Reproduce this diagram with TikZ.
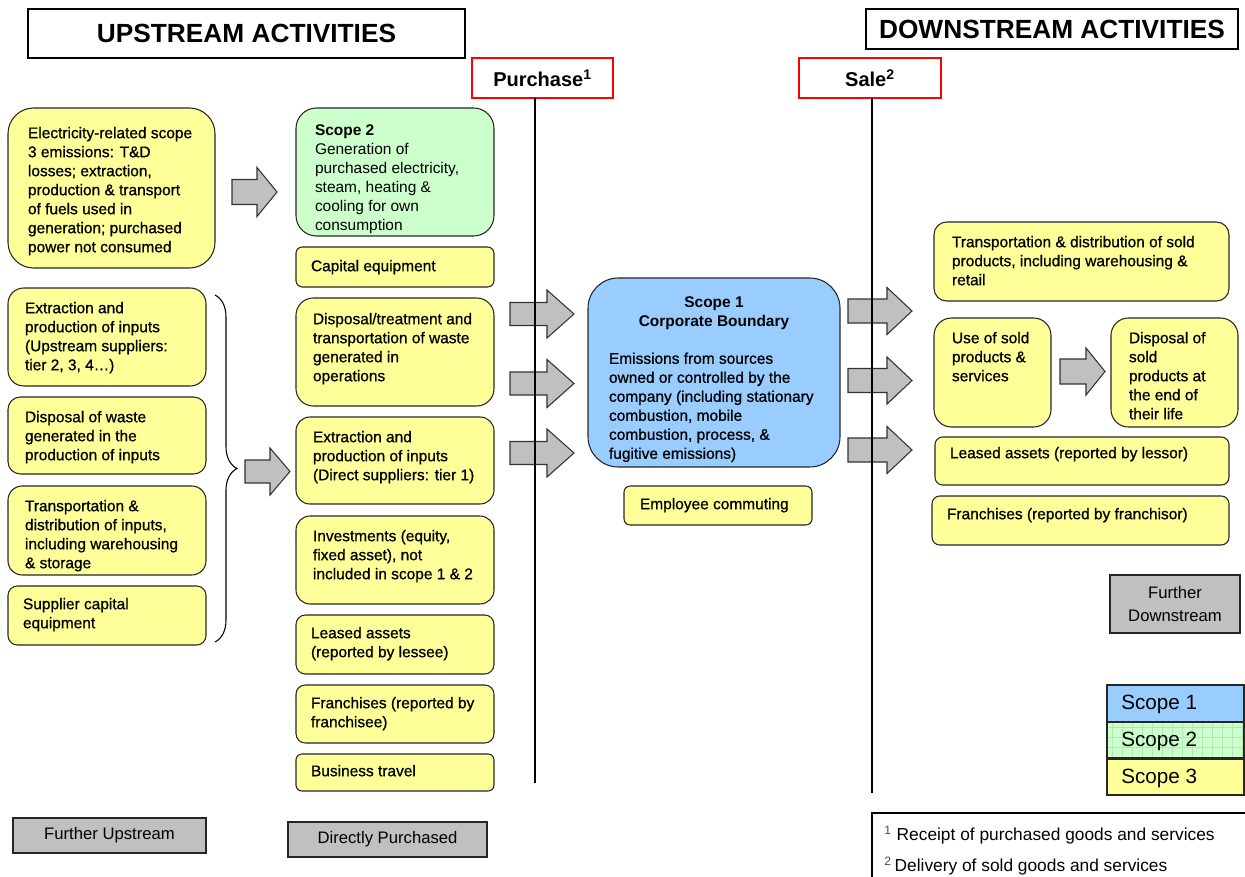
\documentclass[tikz,border=0pt]{standalone}
\usepackage{fontspec}
\setmainfont{Liberation Sans}
\newfontfamily\bxf{Liberation Sans}[UprightFeatures={FakeBold=0.8}]
\usetikzlibrary{decorations.pathreplacing}
\definecolor{yel}{HTML}{FFFF99}
\definecolor{grn}{HTML}{CCFFCC}
\definecolor{blu}{HTML}{99CCFF}
\definecolor{gry}{HTML}{C0C0C0}
\definecolor{gridg}{HTML}{B4E6B4}
\newdimen\ppx \ppx=0.75pt
% rounded box with top-left text
\newcommand\bx[9]{%
 \pgfmathsetlengthmacro\bw{(#5-#3)*0.75pt}%
 \pgfmathsetlengthmacro\bh{(#6-#4)*0.75pt}%
 \pgfmathsetlengthmacro\br{0.16*min(#5-#3,#6-#4)*0.75pt}%
 \node[#1, rounded corners=\br, anchor=north west, inner sep=0pt, outer sep=0pt,
   minimum width=\bw, minimum height=\bh] (#2) at (#3,#4)
   {\parbox[b][\bh][t]{\bw}{\vspace*{#8\ppx}\raggedright\leftskip=#7\ppx\relax #9\par}};}
% square box with centred text
\newcommand\cbx[7]{%
 \pgfmathsetlengthmacro\bw{(#5-#3)*0.75pt}%
 \pgfmathsetlengthmacro\bh{(#6-#4)*0.75pt}%
 \node[#1, anchor=north west, inner sep=0pt, outer sep=0pt,
   minimum width=\bw, minimum height=\bh, align=center] (#2) at (#3,#4) {#7};}
\newcommand\barr[6]{%
 \draw[arr] (#1,#4-#5) -- (#3,#4-#5) -- (#3,#4-#6) -- (#2,#4) -- (#3,#4+#6)
   -- (#3,#4+#5) -- (#1,#4+#5) -- cycle;}
\begin{document}
\begin{tikzpicture}[x=0.75pt,y=-0.75pt,
  ybox/.style={draw=black!85, line width=0.8pt, fill=yel, font=\bxf\fontsize{11.6}{14.25}\selectfont},
  gbox/.style={draw=black!85, line width=0.8pt, fill=grn, font=\fontsize{11.6}{14.25}\selectfont},
  bbox/.style={draw=black!85, line width=0.8pt, fill=blu, font=\bxf\fontsize{11.6}{14.25}\selectfont},
  hdr/.style={draw=black, line width=0.9pt, fill=white, font=\bfseries\fontsize{19.7}{23}\selectfont},
  redbox/.style={draw=red, line width=1pt, fill=white, font=\bfseries\fontsize{15}{18}\selectfont},
  greybox/.style={draw=black!85, line width=1.3pt, fill=gry, font=\fontsize{12.5}{17}\selectfont},
  leg/.style={draw=black!85, line width=1.5pt, font=\fontsize{15.5}{18}\selectfont},
  legt/.style={anchor=west, inner sep=0pt, font=\fontsize{15.5}{18}\selectfont},
  arr/.style={draw=black!80, line width=0.8pt, fill=gry},
  vline/.style={draw=black, line width=0.9pt},
  gridl/.style={draw=gridg, line width=0.3pt}]
\useasboundingbox (0,0) rectangle (1245,877);

% headers
\cbx{hdr}{up}{28}{9}{465}{58}{UPSTREAM ACTIVITIES}
\cbx{hdr}{down}{866}{9}{1238}{49}{DOWNSTREAM ACTIVITIES}
\cbx{redbox}{purch}{472}{58}{613}{98}{Purchase\textsuperscript{1}}
\cbx{redbox}{sale}{799}{58}{941}{98}{Sale\textsuperscript{2}}

% further upstream column
\bx{ybox}{elec}{8}{108}{215}{268}{20}{19}{Electricity-related scope\\3 emissions: T\&D\\losses; extraction,\\production \& transport\\of fuels used in\\generation; purchased\\power not consumed}
\bx{ybox}{extup}{8}{288}{206}{386}{17}{14}{Extraction and\\production of inputs\\(Upstream suppliers:\\tier 2, 3, 4…)}
\bx{ybox}{dispw}{8}{397}{206}{474}{17}{14}{Disposal of waste\\generated in the\\production of inputs}
\bx{ybox}{transin}{8}{486}{206}{575}{17}{14}{Transportation \&\\distribution of inputs,\\including warehousing\\\& storage}
\bx{ybox}{supcap}{8}{586}{206}{645}{15}{12}{Supplier capital\\equipment}

% directly purchased column
\bx{gbox}{scope2}{296}{108}{494}{236}{19}{17}{{\bfseries Scope 2}\\Generation of\\purchased electricity,\\steam, heating \&\\cooling for own\\consumption}
\bx{ybox}{capeq}{296}{247}{494}{287}{15}{13}{Capital equipment}
\bx{ybox}{dispt}{296}{298}{494}{406}{17}{15}{Disposal/treatment and\\transportation of waste\\generated in\\operations}
\bx{ybox}{extd}{296}{417}{494}{504}{17}{14}{Extraction and\\production of inputs\\(Direct suppliers: tier 1)}
\bx{ybox}{inv}{296}{516}{494}{604}{17}{14}{Investments (equity,\\fixed asset), not\\included in scope 1 \& 2}
\bx{ybox}{lessee}{296}{615}{494}{674}{15}{12}{Leased assets\\(reported by lessee)}
\bx{ybox}{franee}{296}{685}{494}{743}{15}{12}{Franchises (reported by\\franchisee)}
\bx{ybox}{btrav}{296}{754}{494}{791}{15}{11}{Business travel}

% scope 1
\bx{bbox}{scope1}{588}{278}{840}{467}{0}{19}{{\normalfont\bfseries\centering Scope 1\\Corporate Boundary\par}\vspace{18\ppx}{\leftskip=21\ppx Emissions from sources\\owned or controlled by the\\company (including stationary\\combustion, mobile\\combustion, process, \&\\fugitive emissions)\par}}
\bx{ybox}{emp}{624}{486}{812}{525}{16}{12}{Employee commuting}

% downstream column
\bx{ybox}{transs}{934}{222}{1229}{301}{18}{14}{Transportation \& distribution of sold\\products, including warehousing \&\\retail}
\bx{ybox}{use}{934}{318}{1051}{427}{18}{14}{Use of sold\\products \&\\services}
\bx{ybox}{disps}{1111}{318}{1238}{427}{18}{14}{Disposal of\\sold\\products at\\the end of\\their life}
\bx{ybox}{lessor}{935}{437}{1229}{485}{15}{10}{Leased assets (reported by lessor)}
\bx{ybox}{franor}{932}{496}{1229}{545}{15}{12}{Franchises (reported by franchisor)}

% grey labels
\cbx{greybox}{fup}{13}{818}{206}{853}{Further Upstream}
\cbx{greybox}{dpur}{288}{822}{487}{857}{Directly Purchased}
\cbx{greybox}{fdown}{1110}{575}{1240}{633}{Further\\Downstream}

% block arrows
\barr{232}{277}{257}{192}{12.5}{24.5}
\barr{245}{290}{270}{471.5}{11.5}{23.5}
\barr{510}{574}{547}{314}{11.5}{24}
\barr{510}{574}{547}{383.5}{11.5}{24}
\barr{510}{574}{547}{453}{11.5}{24}
\barr{848}{912}{887}{311}{12}{23.5}
\barr{848}{912}{887}{380.5}{12}{23.5}
\barr{848}{912}{887}{450}{12}{23.5}
\barr{1060}{1105}{1086}{371.5}{12.5}{23.5}

% brace
\coordinate (brt) at (215,295);
\coordinate (brb) at (215,642);
\draw[line width=0.8pt, decorate, decoration={brace, amplitude=16.5pt}] (brt) -- (brb);

% purchase / sale lines
\coordinate (pl) at (535,783);
\coordinate (sl) at (872,793);
\draw[vline] (purch.south -| pl) -- (pl);
\draw[vline] (sale.south -| sl) -- (sl);

% legend
\fill[blu] (1107,685) rectangle (1244,722);
\fill[grn] (1107,722) rectangle (1244,758);
\fill[yel] (1107,759) rectangle (1244,795);
\begin{scope}
\clip (1108,723) rectangle (1243,757);
\foreach \gx in {1112,1122,...,1242} \draw[gridl] (\gx,723) -- (\gx,757);
\foreach \gy in {727,737,747} \draw[gridl] (1108,\gy) -- (1243,\gy);
\end{scope}
\cbx{leg}{leg1}{1107}{685}{1244}{722}{}
\cbx{leg}{leg2}{1107}{722}{1244}{758}{}
\cbx{leg}{leg3}{1107}{759}{1244}{795}{}
\node[legt] (leg1t) at (1121,704) {Scope 1};
\node[legt] (leg2t) at (1121,741) {Scope 2};
\node[legt] (leg3t) at (1121,778) {Scope 3};

% footnotes
\coordinate (fa) at (872,877);
\coordinate (fb) at (872,813);
\coordinate (fc) at (1245,813);
\draw[line width=1.2pt] (fa) -- (fb) -- (fc);
\node[anchor=west, inner sep=0pt, font=\fontsize{13}{15}\selectfont] (fn1) at (884,835)
  {{\color{black!70}\textsuperscript{1}}\hspace{5\ppx}Receipt of purchased goods and services};
\node[anchor=west, inner sep=0pt, font=\fontsize{13}{15}\selectfont] (fn2) at (884,866)
  {{\color{black!70}\textsuperscript{2}}\hspace{3\ppx}Delivery of sold goods and services};
\end{tikzpicture}
\end{document}
